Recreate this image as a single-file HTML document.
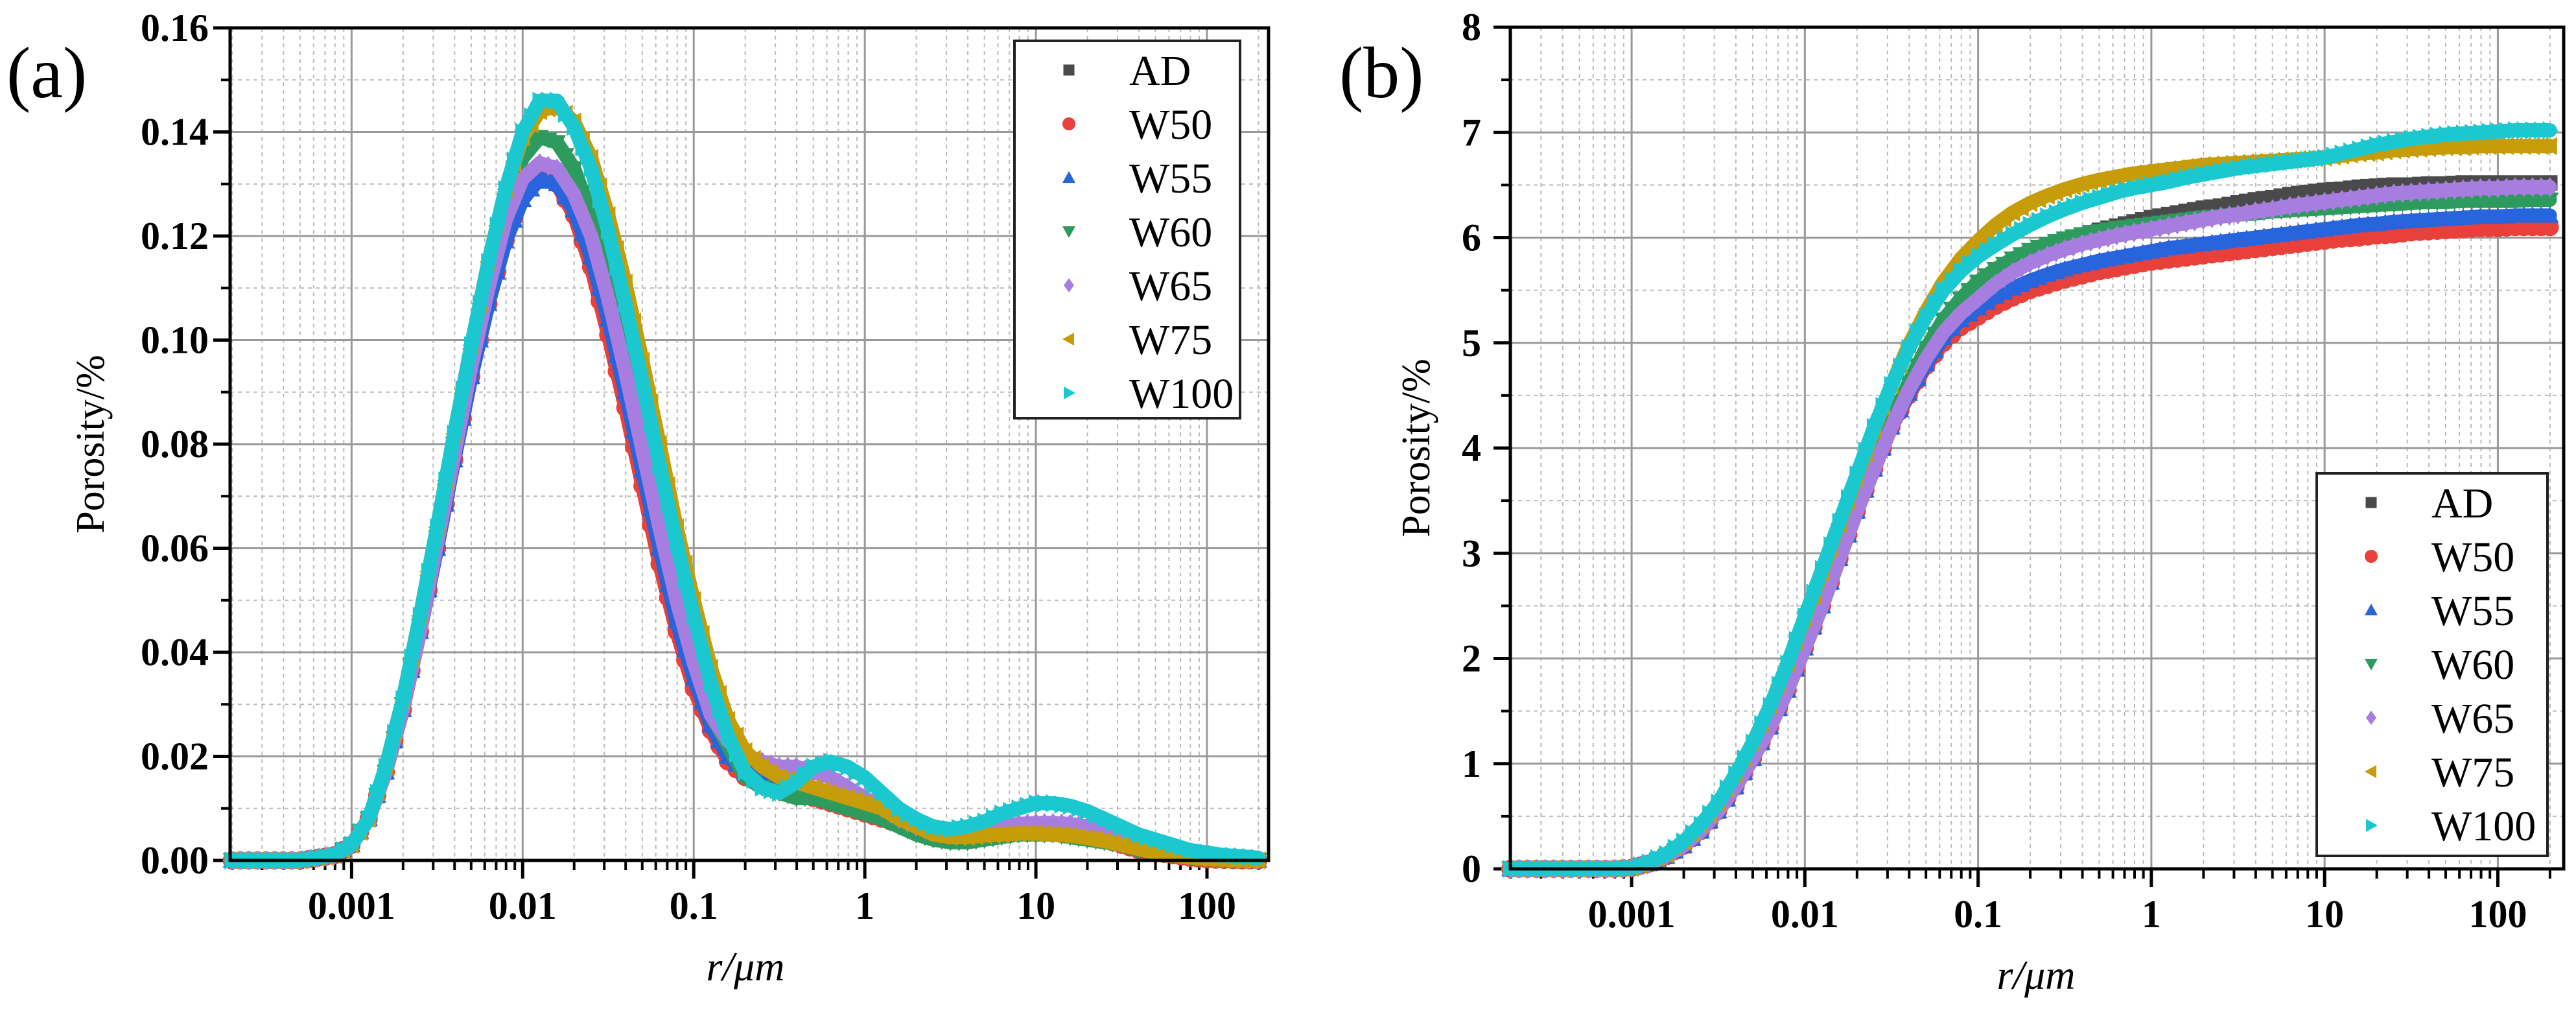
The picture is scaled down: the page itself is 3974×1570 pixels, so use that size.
<!DOCTYPE html>
<html><head><meta charset="utf-8">
<style>
html,body{margin:0;padding:0;background:#fff;}
svg, svg text{font-family:"Liberation Serif","Times New Roman",Times,serif;}
svg{display:block;}
</style></head>
<body>
<svg id="root" width="3974" height="1570" viewBox="0 0 3974 1570" xmlns="http://www.w3.org/2000/svg" font-family="Liberation Serif, serif">
<text x="10" y="150" font-size="112">(a)</text>
<text x="2066" y="150" font-size="112">(b)</text>
<g id="chartA"></g>
<g id="chartB"></g>
</svg>
<script>
// shared x (log10 of r in µm)
const logR = [-3.7,-3.6,-3.5,-3.4,-3.3,-3.2,-3.1,-3.0,-2.9,-2.8,-2.7,-2.6,-2.5,-2.4,-2.3,-2.2,-2.1,-2.0,-1.9,-1.8,-1.7,-1.6,-1.5,-1.4,-1.3,-1.2,-1.1,-1.0,-0.9,-0.8,-0.7,-0.6,-0.5,-0.4,-0.3,-0.2,-0.1,0.0,0.1,0.2,0.3,0.4,0.5,0.6,0.7,0.8,0.9,1.0,1.1,1.2,1.3,1.4,1.5,1.6,1.7,1.8,1.9,2.0,2.1,2.2,2.3];
const seriesNames = ["AD","W50","W55","W60","W65","W75","W100"];
const xTickLabels = ["0.001","0.01","0.1","1","10","100"];
const yTickLabelsA = ["0.00","0.02","0.04","0.06","0.08","0.10","0.12","0.14","0.16"];
const yTickLabelsB = ["0","1","2","3","4","5","6","7","8"];

// chart (a): pore size distribution
const aAD  = [0,0,0,0,0,0.0005,0.001,0.003,0.008,0.017,0.029,0.044,0.060,0.077,0.093,0.108,0.120,0.129,0.133,0.132,0.127,0.118,0.106,0.092,0.077,0.062,0.048,0.036,0.027,0.021,0.018,0.016,0.015,0.014,0.013,0.012,0.011,0.010,0.009,0.0075,0.006,0.005,0.0045,0.0045,0.005,0.0055,0.006,0.006,0.006,0.006,0.0055,0.005,0.004,0.003,0.0022,0.0015,0.001,0.0006,0.0003,0.0001,0];
const aW50 = [0,0,0,0,0,0.0005,0.001,0.003,0.008,0.017,0.029,0.044,0.060,0.077,0.093,0.107,0.119,0.128,0.132,0.130,0.124,0.114,0.101,0.087,0.072,0.057,0.044,0.033,0.025,0.019,0.016,0.015,0.014,0.013,0.012,0.011,0.010,0.009,0.008,0.007,0.0055,0.0045,0.004,0.004,0.0045,0.005,0.0055,0.0055,0.0055,0.005,0.0045,0.004,0.003,0.002,0.0015,0.001,0.0005,0.0002,0.0001,0,0];
const aW55 = [0,0,0,0,0,0.0005,0.001,0.003,0.008,0.017,0.029,0.044,0.060,0.077,0.093,0.107,0.119,0.127,0.131,0.130,0.125,0.116,0.104,0.090,0.075,0.060,0.046,0.035,0.026,0.020,0.017,0.016,0.015,0.014,0.013,0.012,0.011,0.010,0.009,0.0075,0.006,0.005,0.0045,0.0045,0.005,0.0055,0.006,0.006,0.006,0.0055,0.005,0.0045,0.0035,0.0025,0.0018,0.0012,0.0008,0.0004,0.0002,0.0001,0];
const aW60 = [0,0,0,0,0,0.0005,0.001,0.003,0.008,0.017,0.030,0.045,0.062,0.080,0.097,0.112,0.126,0.135,0.139,0.138,0.133,0.124,0.112,0.098,0.083,0.067,0.052,0.039,0.028,0.022,0.016,0.014,0.013,0.012,0.012,0.011,0.010,0.009,0.008,0.0065,0.005,0.004,0.0035,0.0035,0.004,0.0045,0.005,0.005,0.005,0.0045,0.004,0.0035,0.003,0.002,0.0015,0.001,0.0006,0.0003,0.0001,0,0];
const aW65 = [0,0,0,0,0,0.0005,0.001,0.003,0.008,0.017,0.029,0.044,0.061,0.078,0.095,0.110,0.123,0.131,0.134,0.133,0.128,0.120,0.108,0.094,0.079,0.064,0.050,0.038,0.028,0.023,0.020,0.019,0.018,0.018,0.017,0.016,0.014,0.012,0.010,0.008,0.0065,0.0055,0.005,0.0055,0.006,0.0065,0.007,0.0072,0.0072,0.007,0.0065,0.0058,0.005,0.004,0.003,0.002,0.0015,0.001,0.0006,0.0003,0.0001];
const aW75 = [0,0,0,0,0,0.0005,0.001,0.003,0.008,0.018,0.031,0.047,0.064,0.082,0.099,0.115,0.129,0.139,0.144,0.145,0.142,0.135,0.124,0.111,0.096,0.080,0.064,0.050,0.037,0.027,0.021,0.018,0.016,0.015,0.014,0.013,0.012,0.011,0.010,0.008,0.0065,0.005,0.0045,0.0045,0.0048,0.005,0.0052,0.0052,0.005,0.0048,0.0043,0.0037,0.003,0.0022,0.0015,0.001,0.0006,0.0003,0.0001,0,0];
const aW100= [0,0,0,0,0,0.0005,0.001,0.003,0.008,0.018,0.031,0.047,0.064,0.082,0.099,0.115,0.129,0.140,0.146,0.146,0.141,0.133,0.121,0.107,0.092,0.076,0.061,0.047,0.034,0.024,0.017,0.014,0.013,0.015,0.018,0.019,0.018,0.016,0.013,0.010,0.008,0.0065,0.006,0.0065,0.0075,0.009,0.010,0.011,0.011,0.0105,0.0095,0.008,0.0065,0.005,0.004,0.003,0.002,0.0015,0.001,0.0008,0.0005];

// chart (b): cumulative porosity
const bAD  = [0,0,0,0,0,0,0,0.01,0.05,0.12,0.22,0.36,0.55,0.78,1.05,1.35,1.7,2.1,2.5,2.95,3.4,3.8,4.2,4.55,4.85,5.1,5.3,5.45,5.6,5.72,5.82,5.9,5.97,6.02,6.07,6.11,6.15,6.19,6.22,6.25,6.28,6.3,6.33,6.36,6.38,6.41,6.43,6.45,6.46,6.48,6.49,6.5,6.5,6.51,6.51,6.52,6.52,6.52,6.52,6.52,6.52];
const bW50 = [0,0,0,0,0,0,0,0.01,0.05,0.12,0.22,0.36,0.55,0.78,1.05,1.35,1.7,2.1,2.5,2.95,3.4,3.8,4.2,4.5,4.78,5.0,5.15,5.25,5.35,5.43,5.5,5.55,5.6,5.64,5.68,5.71,5.74,5.77,5.79,5.81,5.83,5.85,5.87,5.89,5.91,5.93,5.95,5.97,5.99,6.0,6.02,6.03,6.05,6.06,6.07,6.08,6.09,6.09,6.1,6.1,6.1];
const bW55 = [0,0,0,0,0,0,0,0.01,0.05,0.12,0.22,0.36,0.55,0.78,1.05,1.35,1.7,2.1,2.5,2.95,3.4,3.8,4.2,4.52,4.8,5.05,5.22,5.33,5.44,5.52,5.59,5.65,5.7,5.74,5.78,5.81,5.84,5.87,5.9,5.92,5.94,5.96,5.98,6.0,6.02,6.04,6.06,6.08,6.1,6.12,6.13,6.15,6.16,6.17,6.18,6.19,6.2,6.2,6.21,6.21,6.21];
const bW60 = [0,0,0,0,0,0,0,0.01,0.05,0.12,0.22,0.36,0.55,0.78,1.05,1.35,1.7,2.1,2.5,2.95,3.4,3.82,4.25,4.62,4.95,5.22,5.42,5.58,5.7,5.8,5.88,5.94,5.99,6.03,6.06,6.09,6.11,6.13,6.15,6.17,6.19,6.2,6.22,6.23,6.25,6.26,6.27,6.28,6.29,6.3,6.31,6.32,6.33,6.34,6.34,6.35,6.35,6.35,6.35,6.36,6.36];
const bW65 = [0,0,0,0,0,0,0,0.01,0.05,0.12,0.22,0.36,0.55,0.78,1.05,1.35,1.7,2.1,2.5,2.95,3.4,3.8,4.2,4.55,4.85,5.1,5.28,5.42,5.56,5.67,5.76,5.83,5.89,5.94,5.98,6.02,6.05,6.08,6.11,6.14,6.17,6.2,6.22,6.25,6.27,6.3,6.32,6.34,6.36,6.38,6.4,6.42,6.43,6.44,6.45,6.46,6.47,6.47,6.48,6.48,6.48];
const bW75 = [0,0,0,0,0,0,0,0.01,0.06,0.14,0.26,0.42,0.63,0.9,1.2,1.55,1.95,2.38,2.82,3.28,3.72,4.18,4.6,4.98,5.3,5.58,5.8,5.97,6.12,6.24,6.33,6.4,6.46,6.51,6.55,6.58,6.61,6.63,6.65,6.67,6.69,6.7,6.71,6.72,6.73,6.74,6.75,6.76,6.78,6.8,6.81,6.83,6.84,6.85,6.86,6.86,6.87,6.87,6.87,6.87,6.87];
const bW100= [0,0,0,0,0,0,0,0.01,0.06,0.14,0.26,0.42,0.63,0.9,1.2,1.55,1.95,2.4,2.85,3.3,3.75,4.2,4.6,4.95,5.25,5.5,5.68,5.82,5.93,6.03,6.12,6.2,6.27,6.33,6.38,6.43,6.47,6.5,6.53,6.57,6.6,6.63,6.66,6.68,6.7,6.72,6.74,6.76,6.8,6.84,6.88,6.91,6.94,6.96,6.98,6.99,7.0,7.01,7.02,7.02,7.02];

const colors = ["#4a4a4a","#e8403a","#2864db","#2e9b5e","#a77ee0","#c69c08","#1cc8cf"];
const shapes = ["square","circle","triangle","triangle-down","diamond","triangle-left","triangle-right"];
const NS = "http://www.w3.org/2000/svg";
const FONT = "Liberation Serif, Times New Roman, serif";

function mk(tag, attrs, parent){
  const e = document.createElementNS(NS, tag);
  for (const k in attrs) e.setAttribute(k, attrs[k]);
  if (tag === "text") e.setAttribute("font-family", FONT);
  parent.appendChild(e);
  return e;
}
function markerPath(shape, cx, cy, s){
  const h = s/2;
  switch(shape){
    case "square": return `M${cx-h*0.85},${cy-h*0.85}h${1.7*h}v${1.7*h}h${-1.7*h}z`;
    case "circle": return `M${cx-h},${cy}a${h},${h} 0 1,0 ${2*h},0a${h},${h} 0 1,0 ${-2*h},0z`;
    case "triangle": return `M${cx},${cy-h}L${cx+h},${cy+h*0.8}L${cx-h},${cy+h*0.8}z`;
    case "triangle-down": return `M${cx},${cy+h}L${cx+h},${cy-h*0.8}L${cx-h},${cy-h*0.8}z`;
    case "diamond": return `M${cx},${cy-h*1.1}L${cx+h*0.8},${cy}L${cx},${cy+h*1.1}L${cx-h*0.8},${cy}z`;
    case "triangle-left": return `M${cx-h},${cy}L${cx+h*0.8},${cy-h}L${cx+h*0.8},${cy+h}z`;
    case "triangle-right": return `M${cx+h},${cy}L${cx-h*0.8},${cy-h}L${cx-h*0.8},${cy+h}z`;
  }
}

function drawChart(g, cfg){
  const {L,R,T,B,logMin,logMax,yMax,yTickLabels,yMinorStep,yMajorStep,series,legend,yTitleX,xTitleX,tickRight} = cfg;
  const xs = v => L + (v - logMin)/(logMax - logMin)*(R-L);
  const ys = v => B - v/yMax*(B-T);
  const grid = mk("g",{},g);
  
  
  for (let d=-4; d<=2; d++){
    for (let m=2; m<=9; m++){
      const lv = d + Math.log10(m);
      if (lv<=logMin || lv>=logMax) continue;
      const x = xs(lv);
      mk("line",{x1:x,x2:x,y1:T,y2:B,stroke:"#bbb","stroke-width":2,"stroke-dasharray":"6,6"},grid);
      mk("line",{x1:x,x2:x,y1:B,y2:B+15,stroke:"#000","stroke-width":4},g);
    }
  }
  for (let v=yMinorStep; v<yMax; v+=yMajorStep){
    const y = ys(v);
    mk("line",{x1:L,x2:R,y1:y,y2:y,stroke:"#bbb","stroke-width":2,"stroke-dasharray":"6,6"},grid);
    mk("line",{x1:L-14,x2:L,y1:y,y2:y,stroke:"#000","stroke-width":4},g);
  }
  xTickLabels.forEach((lab,i)=>{
    const x = xs(-3+i);
    mk("line",{x1:x,x2:x,y1:T,y2:B,stroke:"#999","stroke-width":3},grid);
    mk("line",{x1:x,x2:x,y1:B,y2:B+28,stroke:"#000","stroke-width":5},g);
    const t = mk("text",{x:x,y:B+90,"font-size":60,"font-weight":"bold","text-anchor":"middle"},g);
    t.textContent = lab;
    
    
  });
  yTickLabels.forEach((lab,i)=>{
    const y = ys(i*yMajorStep);
    if (i>0 && i<yTickLabels.length-1) mk("line",{x1:L,x2:R,y1:y,y2:y,stroke:"#999","stroke-width":3},grid);
    mk("line",{x1:L-26,x2:L,y1:y,y2:y,stroke:"#000","stroke-width":5},g);
    const t = mk("text",{x:tickRight,y:y+20,"font-size":60,"font-weight":"bold","text-anchor":"end"},g);
    t.textContent = lab;
    
    
  });
  series.forEach((vals,si)=>{
    const sg = mk("g",{},g);
    
    
    const pts = vals.map((v,i)=>xs(logR[i]).toFixed(1)+","+ys(v).toFixed(1)).join(" ");
    mk("polyline",{points:pts,fill:"none",stroke:colors[si],"stroke-width":22,"stroke-linejoin":"round","stroke-linecap":"round"},sg);
    let d = "";
    vals.forEach((v,i)=>{
      d += markerPath(shapes[si], xs(logR[i]), ys(v), 28);
      if (i < vals.length-1){
        d += markerPath(shapes[si], (xs(logR[i])+xs(logR[i+1]))/2, (ys(v)+ys(vals[i+1]))/2, 28);
      }
    });
    const p = mk("path",{d:d,fill:colors[si]},sg);
    
    
  });
  const fr = mk("rect",{x:L,y:T,width:R-L,height:B-T,fill:"none",stroke:"#000","stroke-width":5},g);
  
  
  const yt = mk("text",{x:yTitleX,y:(T+B)/2,"font-size":62,"text-anchor":"middle",transform:`rotate(-90 ${yTitleX} ${(T+B)/2})`},g);
  yt.textContent = "Porosity/%";
  
  
  const xt = mk("text",{x:xTitleX,y:B+185,"font-size":64,"font-style":"italic","text-anchor":"middle"},g);
  xt.textContent = "r/\u03BCm";
  
  
  const lg = mk("g",{},g);
  
  
  mk("rect",{x:legend.x,y:legend.y,width:legend.w,height:legend.h,fill:"#fff",stroke:"#222","stroke-width":4},lg);
  seriesNames.forEach((n,si)=>{
    const cy = legend.y + 45 + si*83;
    const e = mk("g",{},lg);
    
    
    mk("path",{d:markerPath(shapes[si], legend.x+84, cy, 20),fill:colors[si]},e);
    const t = mk("text",{x:legend.x+177,y:cy+23,"font-size":66},e);
    t.textContent = n;
  });
}

drawChart(document.getElementById("chartA"),{
  L:355,R:1957,T:43,B:1327,logMin:-3.71,logMax:2.36,yMax:0.16,
  yTickLabels:yTickLabelsA,yMajorStep:0.02,yMinorStep:0.01,
  series:[aAD,aW50,aW55,aW60,aW65,aW75,aW100],
  legend:{x:1565,y:63,w:348,h:582},yTitleX:160,xTitleX:1150,tickRight:322
});
drawChart(document.getElementById("chartB"),{
  L:2330,R:3955,T:42,B:1340,logMin:-3.70,logMax:2.38,yMax:8,
  yTickLabels:yTickLabelsB,yMajorStep:1,yMinorStep:0.5,
  series:[bAD,bW50,bW55,bW60,bW65,bW75,bW100],
  legend:{x:3574,y:730,w:356,h:590},yTitleX:2205,xTitleX:3141,tickRight:2285
});
</script>
</body></html>
